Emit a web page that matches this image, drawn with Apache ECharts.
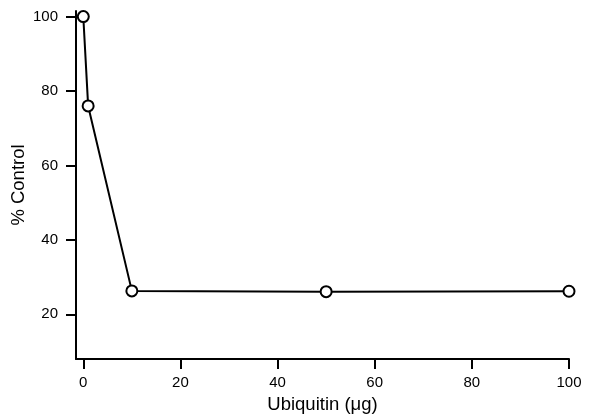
<!DOCTYPE html>
<html>
<head>
<meta charset="utf-8">
<script src="https://cdn.jsdelivr.net/npm/echarts@6/dist/echarts.min.js"></script>
<style>
  html, body { margin: 0; padding: 0; background: #fff; }
  #chart { width: 590px; height: 414px; }
</style>
</head>
<body>
<div id="chart"></div>
<script>
// ubiquitin amount (ug) and % of control
const doses = [0, 1, 10, 50, 100];
const pctControl = [100, 76, 26.3, 26.1, 26.2];
const xTicks = [0, 20, 40, 60, 80, 100];
const yTicks = [20, 40, 60, 80, 100];

const font = 'Liberation Sans, Arial, sans-serif';
let myChart = echarts.init(document.getElementById('chart'));

let option = {
  backgroundColor: '#fff',
  animation: false,
  grid: { left: 76, right: 21, top: 11, bottom: 55, outerBoundsMode: 'none', containLabel: false },
  xAxis: {
    type: 'value',
    min: -1.5,
    max: 100,
    name: 'Ubiquitin (\u03bcg)',
    nameLocation: 'middle',
    nameGap: 36,
    nameMoveOverlap: false,
    nameTextStyle: { color: '#000', fontSize: 18.5, fontFamily: font },
    axisLine: { onZero: false, lineStyle: { color: '#000', width: 2 } },
    axisTick: { customValues: xTicks, length: 10, lineStyle: { color: '#000', width: 2 } },
    axisLabel: { customValues: xTicks, color: '#000', fontSize: 15, fontFamily: font, margin: 16 },
    splitLine: { show: false }
  },
  yAxis: {
    type: 'value',
    min: 8,
    max: 101.5,
    name: '% Control',
    nameLocation: 'middle',
    nameGap: 48,
    nameMoveOverlap: false,
    nameTextStyle: { color: '#000', fontSize: 18.5, fontFamily: font },
    axisLine: { onZero: false, lineStyle: { color: '#000', width: 2 } },
    axisTick: { customValues: yTicks, length: 10, lineStyle: { color: '#000', width: 2 } },
    axisLabel: { customValues: yTicks, color: '#000', fontSize: 15, fontFamily: font, margin: 18 },
    splitLine: { show: false }
  },
  series: [{
    type: 'line',
    data: doses.map((d, i) => [d, pctControl[i]]),
    symbol: 'circle',
    symbolSize: 11,
    lineStyle: { color: '#000', width: 2 },
    itemStyle: { color: '#fff', borderColor: '#000', borderWidth: 2 }
  }]
};

option && myChart.setOption(option);
</script>
</body>
</html>
